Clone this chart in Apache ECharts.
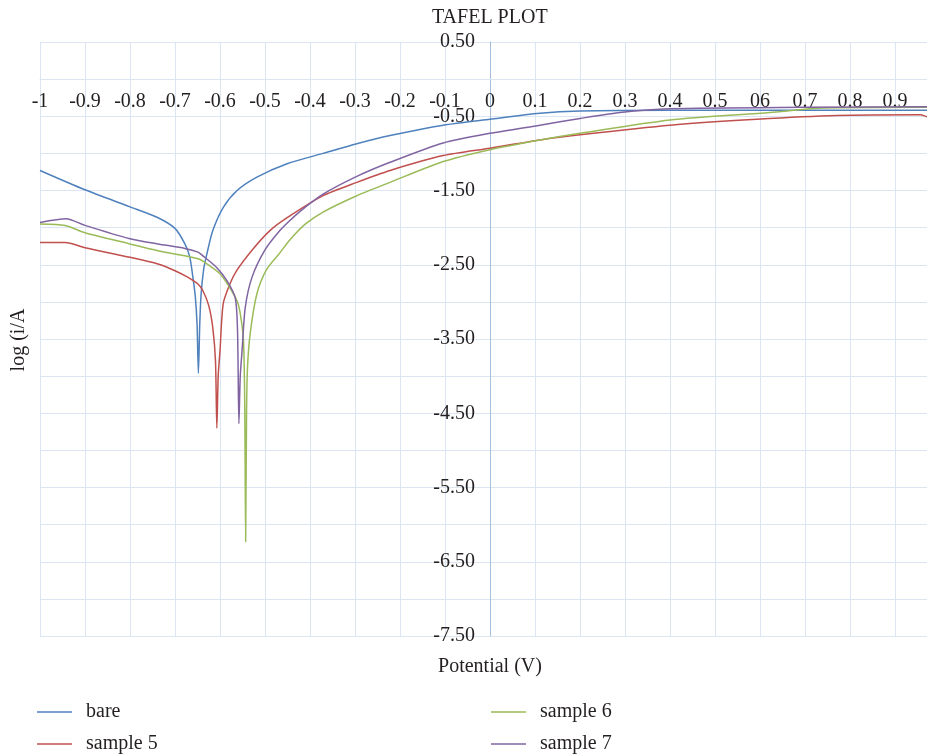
<!DOCTYPE html>
<html>
<head>
<meta charset="utf-8">
<title>Tafel plot</title>
<script src="https://cdn.jsdelivr.net/npm/echarts@6/dist/echarts.min.js"></script>
<style>
  html, body { margin: 0; padding: 0; background: #fff; }
  #chart { width: 927px; height: 754px; }
</style>
</head>
<body>
<div id="chart"></div>
<script>
// x tick labels as printed in the source (note the "06")
const xTickLabels = ['-1', '-0.9', '-0.8', '-0.7', '-0.6', '-0.5', '-0.4', '-0.3', '-0.2', '-0.1',
  '0', '0.1', '0.2', '0.3', '0.4', '0.5', '06', '0.7', '0.8', '0.9', '1'];

// [potential (V), log(i/A)]
const bare = [[-1.0, -1.23], [-0.9, -1.49], [-0.8, -1.72], [-0.74, -1.86], [-0.70, -2.01],
  [-0.678, -2.22], [-0.667, -2.40], [-0.66, -2.68], [-0.655, -2.92], [-0.651, -3.3],
  [-0.648, -3.96], [-0.645, -3.3], [-0.642, -2.9], [-0.636, -2.55], [-0.629, -2.35],
  [-0.616, -2.04], [-0.593, -1.73], [-0.562, -1.50], [-0.518, -1.32], [-0.451, -1.14],
  [-0.371, -1.0], [-0.296, -0.87], [-0.222, -0.76], [-0.104, -0.62], [0, -0.54],
  [0.111, -0.46], [0.2, -0.43], [0.4, -0.42], [0.7, -0.42], [1.0, -0.42]];

const sample5 = [[-1.0, -2.2], [-0.944, -2.2], [-0.9, -2.27], [-0.8, -2.40], [-0.738, -2.49],
  [-0.70, -2.58], [-0.671, -2.67], [-0.649, -2.76], [-0.638, -2.85], [-0.625, -3.05],
  [-0.616, -3.35], [-0.61, -3.8], [-0.607, -4.70], [-0.604, -4.0], [-0.6, -3.66],
  [-0.593, -3.03], [-0.578, -2.76], [-0.562, -2.57], [-0.527, -2.29], [-0.489, -2.04],
  [-0.449, -1.86], [-0.371, -1.57], [-0.296, -1.39], [-0.222, -1.23], [-0.104, -1.03],
  [0, -0.93], [0.111, -0.82], [0.2, -0.75], [0.4, -0.62], [0.593, -0.54], [0.771, -0.49],
  [0.956, -0.48], [0.975, -0.51], [1.0, -0.51]];

const sample6 = [[-1.0, -1.95], [-0.944, -1.97], [-0.9, -2.07], [-0.8, -2.22], [-0.738, -2.31],
  [-0.678, -2.38], [-0.649, -2.42], [-0.638, -2.45], [-0.6, -2.62], [-0.578, -2.81],
  [-0.562, -2.99], [-0.556, -3.12], [-0.548, -3.5], [-0.545, -4.4], [-0.543, -6.23],
  [-0.541, -4.5], [-0.539, -3.9], [-0.533, -3.43], [-0.518, -2.89], [-0.496, -2.56],
  [-0.467, -2.34], [-0.444, -2.16], [-0.41, -1.95], [-0.371, -1.79], [-0.296, -1.57],
  [-0.222, -1.39], [-0.104, -1.11], [0, -0.95], [0.111, -0.82], [0.2, -0.73], [0.4, -0.55],
  [0.622, -0.45], [0.74, -0.39], [1.0, -0.38]];

const sample7 = [[-1.0, -1.93], [-0.942, -1.88], [-0.9, -1.97], [-0.8, -2.15], [-0.738, -2.22],
  [-0.678, -2.28], [-0.649, -2.33], [-0.638, -2.38], [-0.607, -2.54], [-0.584, -2.72],
  [-0.566, -2.95], [-0.561, -3.4], [-0.558, -4.64], [-0.555, -4.0], [-0.551, -3.66],
  [-0.544, -3.08], [-0.529, -2.67], [-0.5, -2.3], [-0.467, -2.04], [-0.444, -1.9],
  [-0.422, -1.78], [-0.371, -1.55], [-0.296, -1.31], [-0.222, -1.12], [-0.104, -0.86],
  [0, -0.73], [0.111, -0.62], [0.2, -0.53], [0.289, -0.45], [0.4, -0.40], [0.7, -0.38],
  [1.0, -0.37]];

const seriesNames = ['bare', 'sample 5', 'sample 6', 'sample 7'];
const seriesData = [bare, sample5, sample6, sample7];
const colors = ['#4f81bd', '#c0504d', '#9bbb59', '#8064a2'];

const font = 'Liberation Serif';
const textColor = '#231f20';
const gridColor = '#dce6f2';

// one legend box per entry, laid out as the two-column key of the source
const legendSpots = [[32, 697], [32, 729], [486, 697], [486, 729]];

const chart = echarts.init(document.getElementById('chart'));

const option = {
  animation: false,
  color: colors,
  grid: { left: 40, top: 42, right: -13, bottom: 118, outerBoundsMode: 'none' },
  xAxis: {
    type: 'value',
    min: -1,
    max: 1,
    interval: 0.1,
    position: 'bottom',
    offset: -557,
    axisLine: { onZero: false, lineStyle: { color: gridColor } },
    axisTick: { show: false },
    axisLabel: {
      margin: 13,
      fontFamily: font,
      fontSize: 20,
      color: textColor,
      formatter: function (v) { return xTickLabels[Math.round((v + 1) * 10)]; }
    },
    splitLine: { lineStyle: { color: gridColor } }
  },
  yAxis: {
    type: 'value',
    min: -7.5,
    max: 0.5,
    interval: 0.5,
    position: 'left',
    offset: -450,
    axisLine: { onZero: false, lineStyle: { color: '#a4c0dc' } },
    axisTick: { show: false },
    axisLabel: {
      margin: 15,
      fontFamily: font,
      fontSize: 20,
      color: textColor,
      formatter: function (v) {
        return Math.abs(Math.round(v * 2)) % 2 === 1 ? v.toFixed(2) : '';
      }
    },
    splitLine: { lineStyle: { color: gridColor } }
  },
  legend: seriesNames.map(function (name, i) {
    return {
      data: [name],
      left: legendSpots[i][0],
      top: legendSpots[i][1],
      icon: 'rect', itemWidth: 35, itemHeight: 1.5,
      textStyle: { fontFamily: font, fontSize: 20, color: textColor, padding: [0, 0, 0, 9] }
    };
  }),
  graphic: [
    {
      type: 'text', left: 432, top: 8,
      style: { text: 'TAFEL PLOT', font: '20px "Liberation Serif"', fill: textColor }
    },
    {
      type: 'text', x: 490, y: 667,
      style: { text: 'Potential (V)', font: '20px "Liberation Serif"', fill: textColor,
        align: 'center', verticalAlign: 'middle' }
    },
    {
      type: 'text', x: 19, y: 340, rotation: Math.PI / 2,
      style: { text: 'log (i/A', font: '20px "Liberation Serif"', fill: textColor,
        align: 'center', verticalAlign: 'middle' }
    }
  ],
  series: seriesNames.map(function (name, i) {
    return {
      name: name,
      type: 'line',
      data: seriesData[i],
      showSymbol: false,
      smooth: 0.25,
      lineStyle: { width: 1.5 }
    };
  })
};

chart.setOption(option);
window.addEventListener('resize', function () { chart.resize(); });
</script>
</body>
</html>
